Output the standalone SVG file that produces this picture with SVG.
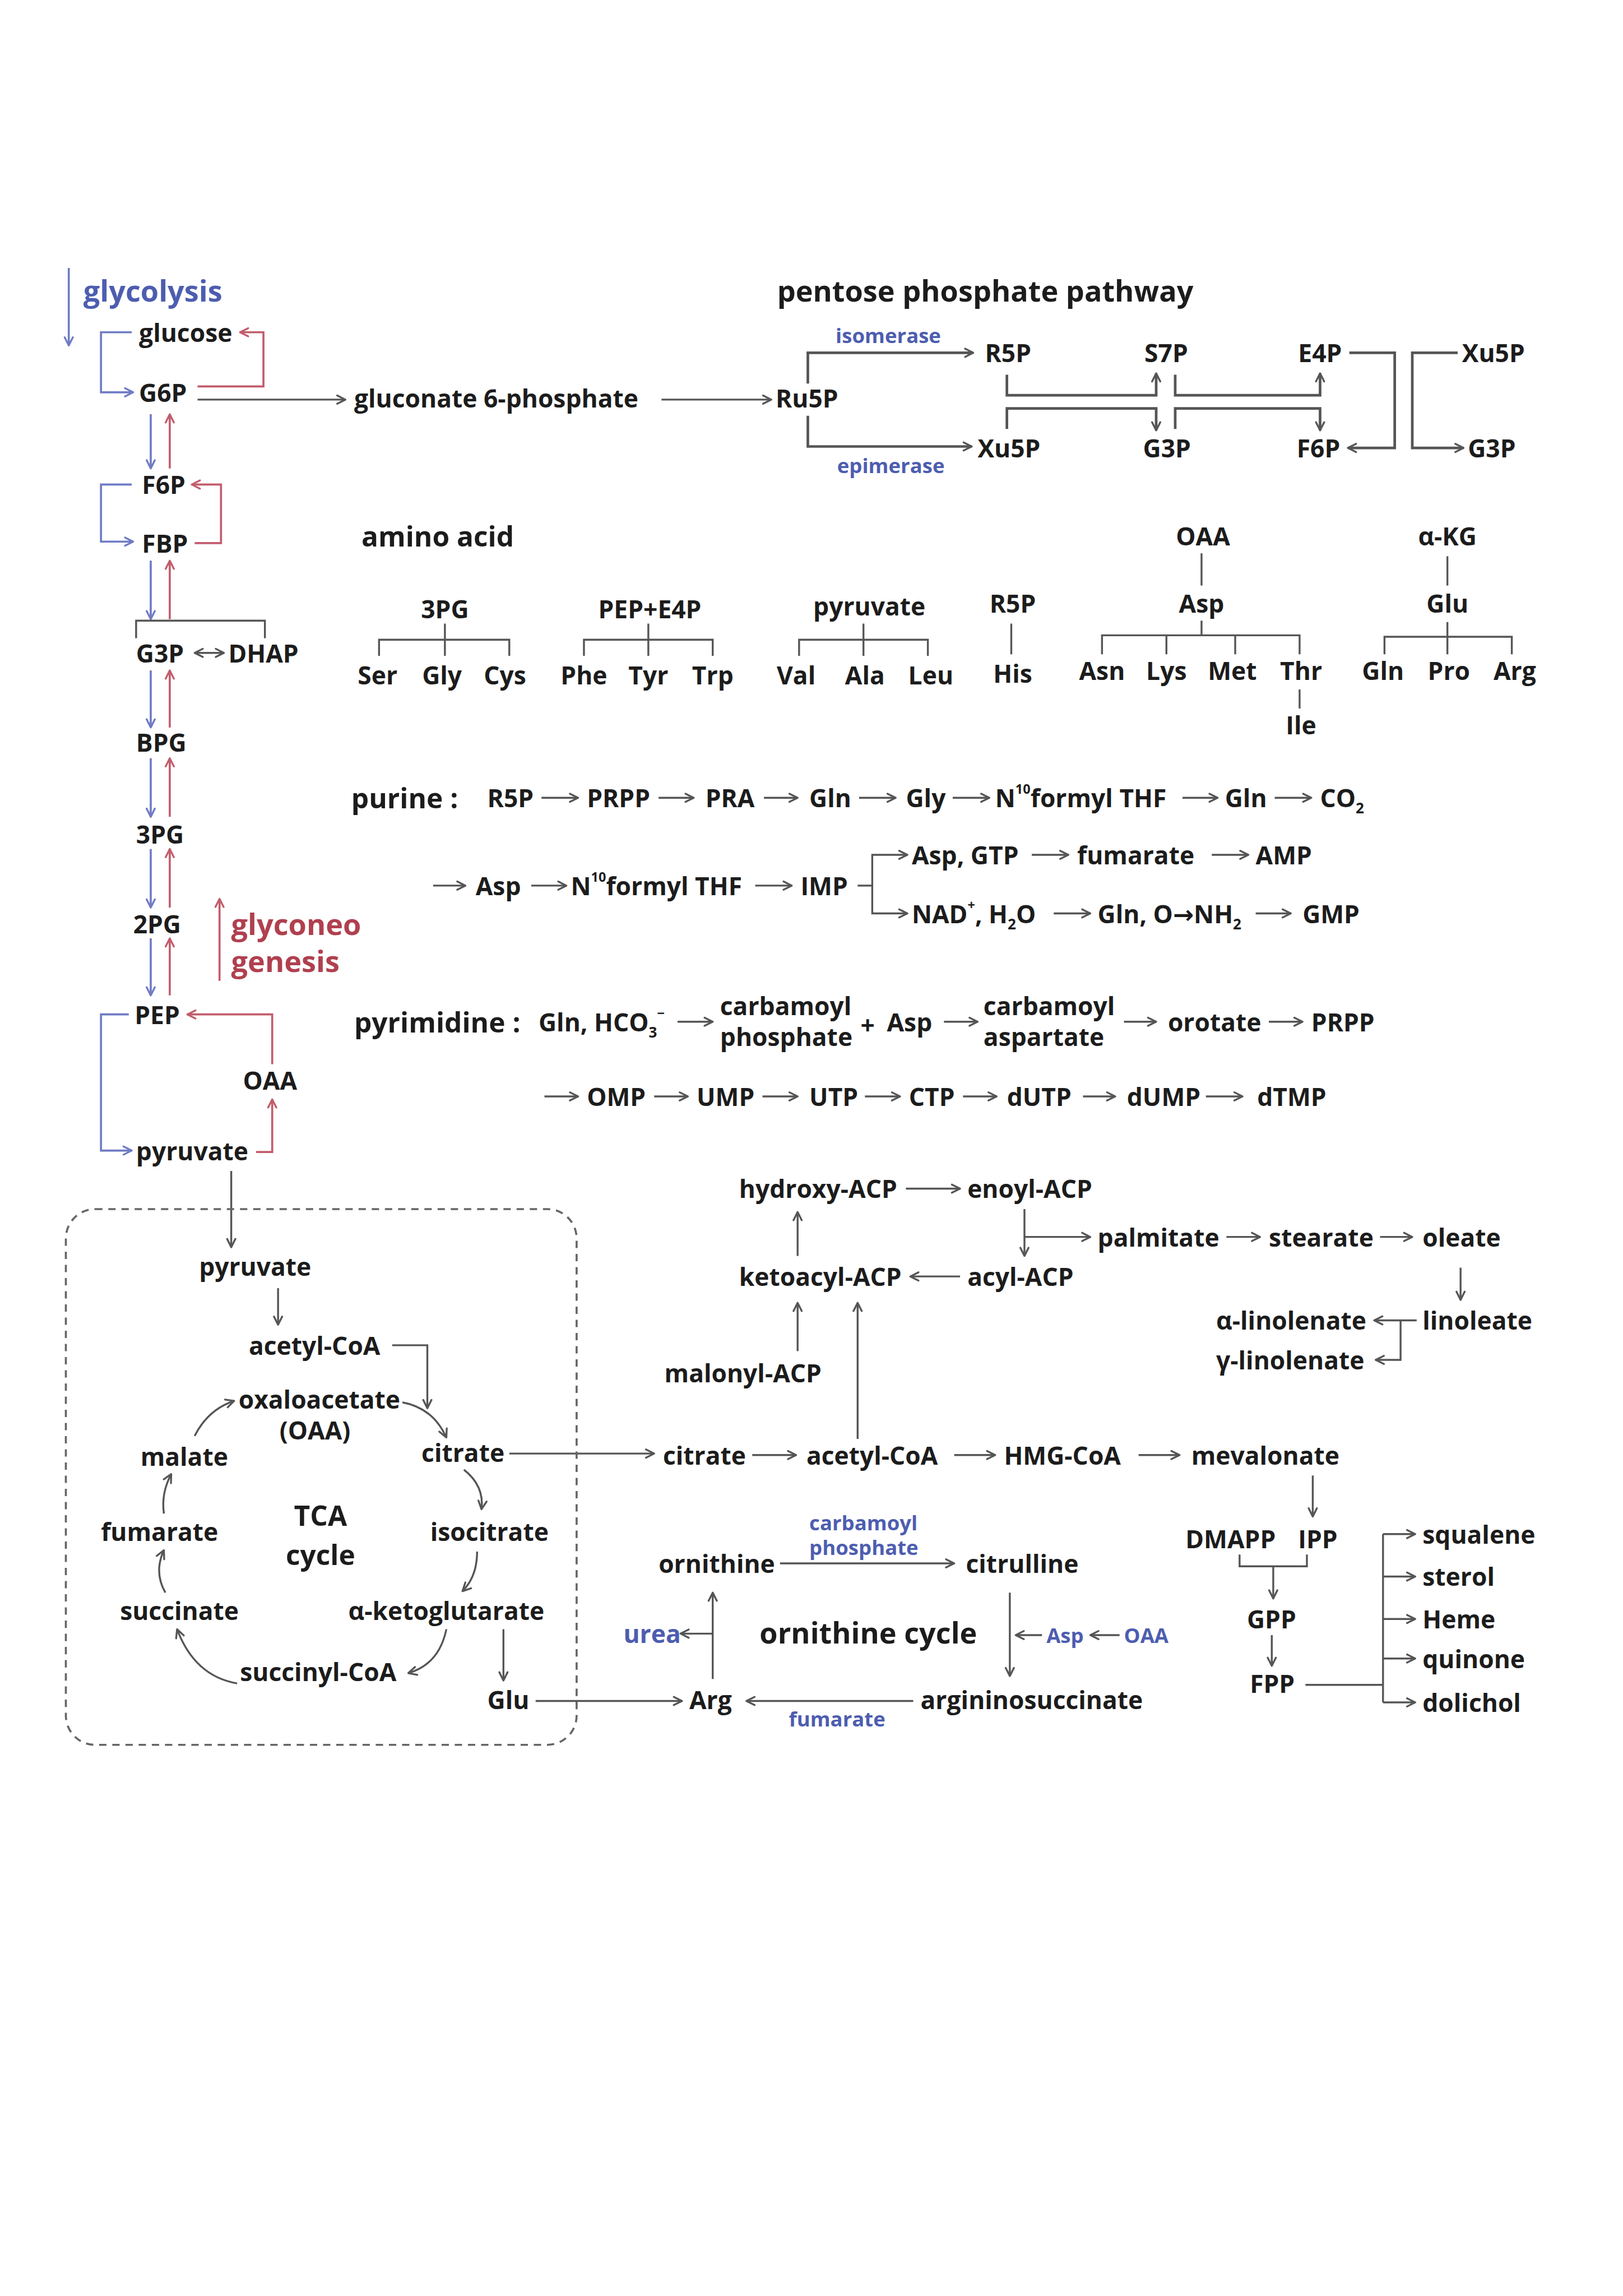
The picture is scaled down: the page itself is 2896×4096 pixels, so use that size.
<svg xmlns="http://www.w3.org/2000/svg" width="2896" height="4096" viewBox="0 0 2896 4096">
<style>
.t{font-family:"Open Sans","Noto Sans","DejaVu Sans",sans-serif;font-weight:700;font-size:17px;fill:#1c1c1c;dominant-baseline:central}
.h{font-size:20px}
.m{font-size:19px}
.c{font-size:19px}
.s{font-size:14px}
.b{fill:#4d5db0}
.r{fill:#b0404f}
.sup{font-size:9px;baseline-shift:super}
.sub{font-size:10px;baseline-shift:sub}
.l{fill:none;stroke:#555;stroke-width:1.3}
.lt{fill:none;stroke:#555;stroke-width:1.8}
.lb{fill:none;stroke:#6f7bc4;stroke-width:1.4}
.lr{fill:none;stroke:#c25c6c;stroke-width:1.4}
.ag{marker-end:url(#ag)}
.ab{marker-end:url(#ab)}
.ar{marker-end:url(#ar)}
.box{fill:none;stroke:#666;stroke-width:1.4;stroke-dasharray:5 4}
</style>
<defs>
<marker id="ag" viewBox="0 0 10 10" refX="9" refY="5" markerWidth="8" markerHeight="8" markerUnits="userSpaceOnUse" orient="auto"><path d="M2,1.5 L9,5 L2,8.5" fill="none" stroke="#555" stroke-width="1.6" stroke-linecap="round" stroke-linejoin="round"/></marker>
<marker id="ab" viewBox="0 0 10 10" refX="9" refY="5" markerWidth="8" markerHeight="8" markerUnits="userSpaceOnUse" orient="auto"><path d="M2,1.5 L9,5 L2,8.5" fill="none" stroke="#6f7bc4" stroke-width="1.6" stroke-linecap="round" stroke-linejoin="round"/></marker>
<marker id="ar" viewBox="0 0 10 10" refX="9" refY="5" markerWidth="8" markerHeight="8" markerUnits="userSpaceOnUse" orient="auto"><path d="M2,1.5 L9,5 L2,8.5" fill="none" stroke="#c25c6c" stroke-width="1.6" stroke-linecap="round" stroke-linejoin="round"/></marker>
<marker id="as" viewBox="0 0 10 10" refX="1" refY="5" markerWidth="8" markerHeight="8" markerUnits="userSpaceOnUse" orient="auto"><path d="M8,1.5 L1,5 L8,8.5" fill="none" stroke="#555" stroke-width="1.6" stroke-linecap="round" stroke-linejoin="round"/></marker>
</defs>
<rect width="2896" height="4096" fill="#ffffff"/>
<g transform="scale(2.6114)">

<g id="connectors">
<!-- glycolysis -->
<path class="lb ab" d="M47,183 V236"/>
<path class="lb ab" d="M90,227 H69 V268 H91"/>
<path class="lr ar" d="M135,264 H180 V227 H164"/>
<path class="l ag" d="M135,273 H236"/>
<path class="l ag" d="M452,273 H527"/>
<path class="lb ab" d="M103,283 V320"/><path class="lr ar" d="M116,320 V283"/>
<path class="lb ab" d="M90,331 H69 V370 H91"/>
<path class="lr ar" d="M133,371 H151 V331 H131"/>
<path class="lb ab" d="M103,383 V423"/><path class="lr ar" d="M116,423 V383"/>
<path class="l" d="M93,436 V424 H181 V436"/>
<path class="l ag" d="M133,446 H153" style="marker-start:url(#as)"/>
<path class="lb ab" d="M103,458 V497"/><path class="lr ar" d="M116,497 V458"/>
<path class="lb ab" d="M103,518 V558"/><path class="lr ar" d="M116,558 V518"/>
<path class="lb ab" d="M103,580 V620"/><path class="lr ar" d="M116,620 V580"/>
<path class="lb ab" d="M103,641 V680"/><path class="lr ar" d="M116,680 V641"/>
<path class="lr ar" d="M150,670 V614"/>
<path class="lr ar" d="M186,727 V693 H128"/>
<path class="lb ab" d="M88,693 H69 V786 H90"/>
<path class="lr ar" d="M175,787 H186 V751"/>
<path class="l ag" d="M158,800 V852"/>
<!-- pentose phosphate -->
<path class="lt ag" d="M552,262 V241 H665"/>
<path class="lt ag" d="M552,284 V305 H664"/>
<path class="lt ag" d="M688,256 V270 H790 V255"/>
<path class="lt ag" d="M688,293 V279 H790 V294"/>
<path class="lt ag" d="M803,256 V270 H902 V255"/>
<path class="lt ag" d="M803,293 V279 H902 V294"/>
<path class="lt ag" d="M922,241 H953 V306 H921"/>
<path class="lt ag" d="M996,241 H965 V306 H1000"/>
<!-- amino acid -->
<path class="l" d="M304,426 V448 M259,448 V437 H348 V448"/>
<path class="l" d="M443,426 V448 M399,448 V437 H487 V448"/>
<path class="l" d="M590,426 V448 M546,448 V437 H634 V448"/>
<path class="l" d="M691,426 V447"/>
<path class="l" d="M821,378 V400"/>
<path class="l" d="M821,424 V434 M753,447 V434 H888 V447 M797,434 V447 M844,434 V447"/>
<path class="l" d="M888,471 V484"/>
<path class="l" d="M989,380 V400"/>
<path class="l" d="M989,425 V447 M946,447 V435 H1033 V447"/>
<!-- purine -->
<path class="l ag" d="M370,545 H395"/><path class="l ag" d="M450,545 H474"/><path class="l ag" d="M522,545 H545"/>
<path class="l ag" d="M587,545 H612"/><path class="l ag" d="M651,545 H676"/><path class="l ag" d="M808,545 H832"/>
<path class="l ag" d="M871,545 H896"/>
<path class="l ag" d="M296,605 H318"/><path class="l ag" d="M363,605 H387"/><path class="l ag" d="M516,605 H541"/>
<path class="l" d="M586,605 H596"/>
<path class="l ag" d="M596,605 V584 H620"/><path class="l ag" d="M596,605 V624 H620"/>
<path class="l ag" d="M705,584 H730"/><path class="l ag" d="M828,584 H853"/>
<path class="l ag" d="M720,624 H745"/><path class="l ag" d="M858,624 H882"/>
<!-- pyrimidine -->
<path class="l ag" d="M463,698 H487"/><path class="l ag" d="M645,698 H668"/>
<path class="l ag" d="M768,698 H790"/><path class="l ag" d="M867,698 H890"/>
<path class="l ag" d="M372,749 H395"/><path class="l ag" d="M447,749 H470"/><path class="l ag" d="M521,749 H545"/>
<path class="l ag" d="M591,749 H615"/><path class="l ag" d="M658,749 H681"/><path class="l ag" d="M740,749 H762"/>
<path class="l ag" d="M824,749 H849"/>
<!-- TCA -->
<path class="l ag" d="M190,880 V905"/>
<path class="l ag" d="M268,919 H292 V962"/>
<path class="l ag" d="M275,958 Q296,962 305,982"/>
<path class="l ag" d="M348,993 H447"/>
<path class="l ag" d="M317,1004 Q331,1015 329,1031"/>
<path class="l ag" d="M326,1060 Q326,1077 316,1087"/>
<path class="l ag" d="M305,1113 Q300,1137 279,1143"/>
<path class="l ag" d="M162,1150 Q133,1145 121,1113"/>
<path class="l ag" d="M113,1088 Q105,1074 112,1059"/>
<path class="l ag" d="M112,1034 Q110,1020 117,1007"/>
<path class="l ag" d="M133,981 Q142,963 160,957"/>
<path class="l ag" d="M344,1113 V1148"/>
<path class="l ag" d="M366,1162 H466"/>
<!-- citrate / mevalonate -->
<path class="l ag" d="M514,994 H544"/><path class="l ag" d="M652,994 H680"/><path class="l ag" d="M778,994 H806"/>
<path class="l ag" d="M586,983 V890"/>
<!-- fatty acid -->
<path class="l ag" d="M619,812 H656"/>
<path class="l ag" d="M545,858 V828"/>
<path class="l ag" d="M656,872 H622"/>
<path class="l ag" d="M700,826 V858"/>
<path class="l ag" d="M700,845 H745"/>
<path class="l ag" d="M838,845 H861"/><path class="l ag" d="M943,845 H965"/>
<path class="l ag" d="M998,866 V888"/>
<path class="l ag" d="M968,902 H939"/>
<path class="l ag" d="M957,902 V929 H940"/>
<path class="l ag" d="M545,923 V890"/>
<!-- isoprenoid -->
<path class="l ag" d="M897,1008 V1036"/>
<path class="l" d="M847,1062 V1070 H893 V1062"/>
<path class="l ag" d="M870,1070 V1092"/>
<path class="l ag" d="M869,1117 V1138"/>
<path class="l" d="M892,1151 H945 M945,1048 V1163"/>
<path class="l ag" d="M945,1048 H967"/><path class="l ag" d="M945,1077 H967"/><path class="l ag" d="M945,1106 H967"/>
<path class="l ag" d="M945,1133 H967"/><path class="l ag" d="M945,1163 H967"/>
<!-- ornithine cycle -->
<path class="l ag" d="M533,1068 H652"/>
<path class="l ag" d="M690,1088 V1145"/>
<path class="l ag" d="M712,1117 H694"/><path class="l ag" d="M765,1117 H745"/>
<path class="l ag" d="M624,1162 H510"/>
<path class="l ag" d="M487,1147 V1088"/>
<path class="l ag" d="M487,1116 H465"/>
</g>

<g id="tca-box"><rect class="box" x="45" y="826" width="349" height="366" rx="20"/></g>

<!-- glycolysis nodes -->
<g id="lbl-glycolysis"><text class="t h b" x="57" y="198">glycolysis</text></g>
<g id="n-glucose"><text class="t" x="95" y="227">glucose</text></g>
<g id="n-g6p"><text class="t" x="95" y="268">G6P</text></g>
<g id="n-gluconate6p"><text class="t" x="242" y="272">gluconate 6-phosphate</text></g>
<g id="n-f6p"><text class="t" x="97" y="331">F6P</text></g>
<g id="n-fbp"><text class="t" x="97" y="371">FBP</text></g>
<g id="n-g3p"><text class="t" x="93" y="446">G3P</text></g>
<g id="n-dhap"><text class="t" x="156" y="446">DHAP</text></g>
<g id="n-bpg"><text class="t" x="93" y="507">BPG</text></g>
<g id="n-3pg"><text class="t" x="93" y="570">3PG</text></g>
<g id="n-2pg"><text class="t" x="91" y="631">2PG</text></g>
<g id="lbl-gluconeo"><text class="t h r" x="158" y="631">glyconeo</text><text class="t h r" x="158" y="656">genesis</text></g>
<g id="n-pep"><text class="t" x="92" y="693">PEP</text></g>
<g id="n-oaa1"><text class="t" x="166" y="738">OAA</text></g>
<g id="n-pyruvate1"><text class="t" x="93" y="786">pyruvate</text></g>

<!-- pentose phosphate -->
<g id="lbl-ppp"><text class="t h" x="531" y="198">pentose phosphate pathway</text></g>
<g id="n-ru5p"><text class="t" x="530" y="272">Ru5P</text></g>
<g id="lbl-isomerase"><text class="t s b" x="571" y="229">isomerase</text></g>
<g id="lbl-epimerase"><text class="t s b" x="572" y="318">epimerase</text></g>
<g id="n-r5p"><text class="t" x="673" y="241">R5P</text></g>
<g id="n-s7p"><text class="t" x="782" y="241">S7P</text></g>
<g id="n-e4p"><text class="t" x="887" y="241">E4P</text></g>
<g id="n-xu5p2"><text class="t" x="999" y="241">Xu5P</text></g>
<g id="n-xu5p"><text class="t" x="668" y="306">Xu5P</text></g>
<g id="n-g3p-a"><text class="t" x="781" y="306">G3P</text></g>
<g id="n-f6p-b"><text class="t" x="886" y="306">F6P</text></g>
<g id="n-g3p-b"><text class="t" x="1003" y="306">G3P</text></g>

<!-- amino acid -->
<g id="lbl-amino"><text class="t m" x="247" y="366">amino acid</text></g>
<g id="aa-3pg" text-anchor="middle"><text class="t" x="304" y="416">3PG</text><text class="t" x="258" y="461">Ser</text><text class="t" x="302" y="461">Gly</text><text class="t" x="345" y="461">Cys</text></g>
<g id="aa-pepe4p" text-anchor="middle"><text class="t" x="444" y="416">PEP+E4P</text><text class="t" x="399" y="461">Phe</text><text class="t" x="443" y="461">Tyr</text><text class="t" x="487" y="461">Trp</text></g>
<g id="aa-pyr" text-anchor="middle"><text class="t" x="594" y="414">pyruvate</text><text class="t" x="544" y="461">Val</text><text class="t" x="591" y="461">Ala</text><text class="t" x="636" y="461">Leu</text></g>
<g id="aa-r5p" text-anchor="middle"><text class="t" x="692" y="412">R5P</text><text class="t" x="692" y="460">His</text></g>
<g id="aa-oaa" text-anchor="middle"><text class="t" x="822" y="366">OAA</text><text class="t" x="821" y="412">Asp</text><text class="t" x="753" y="458">Asn</text><text class="t" x="797" y="458">Lys</text><text class="t" x="842" y="458">Met</text><text class="t" x="889" y="458">Thr</text><text class="t" x="889" y="495">Ile</text></g>
<g id="aa-akg" text-anchor="middle"><text class="t" x="989" y="366">α-KG</text><text class="t" x="989" y="412">Glu</text><text class="t" x="945" y="458">Gln</text><text class="t" x="990" y="458">Pro</text><text class="t" x="1035" y="458">Arg</text></g>

<!-- purine -->
<g id="lbl-purine"><text class="t m" x="240" y="545">purine :</text></g>
<g id="pu-1"><text class="t" x="333" y="545">R5P</text></g>
<g id="pu-2"><text class="t" x="401" y="545">PRPP</text></g>
<g id="pu-3"><text class="t" x="482" y="545">PRA</text></g>
<g id="pu-4"><text class="t" x="553" y="545">Gln</text></g>
<g id="pu-5"><text class="t" x="619" y="545">Gly</text></g>
<g id="pu-6"><text class="t" x="680" y="545">N<tspan class="sup">10</tspan>formyl THF</text></g>
<g id="pu-7"><text class="t" x="837" y="545">Gln</text></g>
<g id="pu-8"><text class="t" x="902" y="545">CO<tspan class="sub">2</tspan></text></g>
<g id="pu-9"><text class="t" x="325" y="605">Asp</text></g>
<g id="pu-10"><text class="t" x="390" y="605">N<tspan class="sup">10</tspan>formyl THF</text></g>
<g id="pu-imp"><text class="t" x="547" y="605">IMP</text></g>
<g id="pu-a1"><text class="t" x="623" y="584">Asp, GTP</text></g>
<g id="pu-a2"><text class="t" x="736" y="584">fumarate</text></g>
<g id="pu-amp"><text class="t" x="858" y="584">AMP</text></g>
<g id="pu-g1"><text class="t" x="623" y="624">NAD<tspan class="sup">+</tspan>, H<tspan class="sub">2</tspan>O</text></g>
<g id="pu-g2"><text class="t" x="750" y="624">Gln, O→NH<tspan class="sub">2</tspan></text></g>
<g id="pu-gmp"><text class="t" x="890" y="624">GMP</text></g>

<!-- pyrimidine -->
<g id="lbl-pyrimidine"><text class="t m" x="242" y="698">pyrimidine :</text></g>
<g id="py-1"><text class="t" x="368" y="698">Gln, HCO<tspan class="sub">3</tspan><tspan class="sup">−</tspan></text></g>
<g id="py-cp"><text class="t" x="492" y="687">carbamoyl</text><text class="t" x="492" y="708">phosphate</text></g>
<g id="py-plus"><text class="t" x="588" y="700">+</text></g>
<g id="py-asp"><text class="t" x="606" y="698">Asp</text></g>
<g id="py-ca"><text class="t" x="672" y="687">carbamoyl</text><text class="t" x="672" y="708">aspartate</text></g>
<g id="py-orotate"><text class="t" x="798" y="698">orotate</text></g>
<g id="py-prpp"><text class="t" x="896" y="698">PRPP</text></g>
<g id="py-omp"><text class="t" x="401" y="749">OMP</text></g>
<g id="py-ump"><text class="t" x="476" y="749">UMP</text></g>
<g id="py-utp"><text class="t" x="553" y="749">UTP</text></g>
<g id="py-ctp"><text class="t" x="621" y="749">CTP</text></g>
<g id="py-dutp"><text class="t" x="688" y="749">dUTP</text></g>
<g id="py-dump"><text class="t" x="770" y="749">dUMP</text></g>
<g id="py-dtmp"><text class="t" x="859" y="749">dTMP</text></g>

<!-- TCA -->
<g id="tca-pyruvate"><text class="t" x="136" y="865">pyruvate</text></g>
<g id="tca-acetylcoa"><text class="t" x="170" y="919">acetyl-CoA</text></g>
<g id="tca-oaa"><text class="t" x="163" y="956">oxaloacetate</text><text class="t" x="191" y="977">(OAA)</text></g>
<g id="tca-citrate"><text class="t" x="288" y="992">citrate</text></g>
<g id="tca-isocitrate"><text class="t" x="294" y="1046">isocitrate</text></g>
<g id="tca-akg"><text class="t" x="238" y="1100">α-ketoglutarate</text></g>
<g id="tca-succoa"><text class="t" x="164" y="1142">succinyl-CoA</text></g>
<g id="tca-succinate"><text class="t" x="82" y="1100">succinate</text></g>
<g id="tca-fumarate"><text class="t" x="69" y="1046">fumarate</text></g>
<g id="tca-malate"><text class="t" x="96" y="995">malate</text></g>
<g id="tca-label" text-anchor="middle"><text class="t c" x="219" y="1035">TCA</text><text class="t c" x="219" y="1062">cycle</text></g>
<g id="tca-glu"><text class="t" x="333" y="1161">Glu</text></g>

<!-- lipid / isoprenoid -->
<g id="n-citrate2"><text class="t" x="453" y="994">citrate</text></g>
<g id="n-acetylcoa2"><text class="t" x="551" y="994">acetyl-CoA</text></g>
<g id="n-hmgcoa"><text class="t" x="686" y="994">HMG-CoA</text></g>
<g id="n-mevalonate"><text class="t" x="814" y="994">mevalonate</text></g>
<g id="n-hydroxyacp"><text class="t" x="505" y="812">hydroxy-ACP</text></g>
<g id="n-enoylacp"><text class="t" x="661" y="812">enoyl-ACP</text></g>
<g id="n-ketoacylacp"><text class="t" x="505" y="872">ketoacyl-ACP</text></g>
<g id="n-acylacp"><text class="t" x="661" y="872">acyl-ACP</text></g>
<g id="n-malonylacp"><text class="t" x="454" y="938">malonyl-ACP</text></g>
<g id="n-palmitate"><text class="t" x="750" y="845">palmitate</text></g>
<g id="n-stearate"><text class="t" x="867" y="845">stearate</text></g>
<g id="n-oleate"><text class="t" x="972" y="845">oleate</text></g>
<g id="n-linoleate"><text class="t" x="972" y="902">linoleate</text></g>
<g id="n-alinolenate"><text class="t" x="831" y="902">α-linolenate</text></g>
<g id="n-glinolenate"><text class="t" x="831" y="929">γ-linolenate</text></g>
<g id="n-dmapp"><text class="t" x="810" y="1051">DMAPP</text></g>
<g id="n-ipp"><text class="t" x="887" y="1051">IPP</text></g>
<g id="n-gpp"><text class="t" x="852" y="1106">GPP</text></g>
<g id="n-fpp"><text class="t" x="854" y="1150">FPP</text></g>
<g id="n-squalene"><text class="t" x="972" y="1048">squalene</text></g>
<g id="n-sterol"><text class="t" x="972" y="1077">sterol</text></g>
<g id="n-heme"><text class="t" x="972" y="1106">Heme</text></g>
<g id="n-quinone"><text class="t" x="972" y="1133">quinone</text></g>
<g id="n-dolichol"><text class="t" x="972" y="1163">dolichol</text></g>

<!-- ornithine cycle -->
<g id="n-ornithine"><text class="t" x="450" y="1068">ornithine</text></g>
<g id="lbl-carbp"><text class="t s b" x="553" y="1040">carbamoyl</text><text class="t s b" x="553" y="1057">phosphate</text></g>
<g id="n-citrulline"><text class="t" x="660" y="1068">citrulline</text></g>
<g id="lbl-asp"><text class="t s b" x="715" y="1117">Asp</text></g>
<g id="lbl-oaa"><text class="t s b" x="768" y="1117">OAA</text></g>
<g id="n-argsucc"><text class="t" x="629" y="1161">argininosuccinate</text></g>
<g id="lbl-fumarate"><text class="t s b" x="539" y="1174">fumarate</text></g>
<g id="n-arg"><text class="t" x="471" y="1161">Arg</text></g>
<g id="lbl-urea"><text class="t b" x="426" y="1116">urea</text></g>
<g id="lbl-ornithine-cycle"><text class="t h" x="519" y="1115">ornithine cycle</text></g>
</g>
</svg>
